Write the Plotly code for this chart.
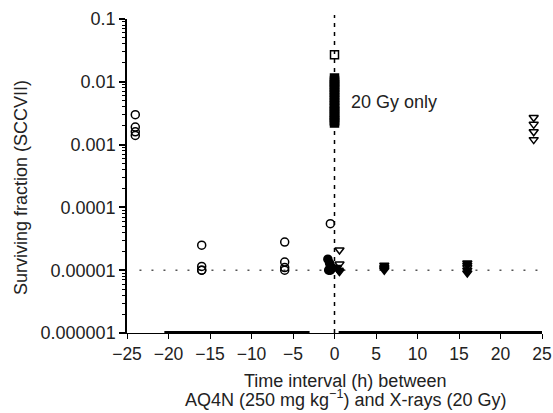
import math
import plotly.graph_objects as go

# ---- data ----
open_circle_x = [-24, -24, -24, -24, -16, -16, -16, -16, -6, -6, -6, -6, -0.5]
open_circle_y = [0.0030, 0.0019, 0.0016, 0.0014, 2.5e-5, 1.15e-5, 1.0e-5, 1.0e-5,
                 2.8e-5, 1.35e-5, 1.1e-5, 1.0e-5, 5.5e-5]

filled_circle_x = [-0.8, -0.6, -0.5, -0.4, -0.7, -0.5, -0.3]
filled_circle_y = [1.5e-5, 1.3e-5, 1.15e-5, 1.05e-5, 1.0e-5, 1.0e-5, 1.1e-5]

open_tri_x = [0.6, 0.6, 16, 24, 24, 24, 24]
open_tri_y = [2.1e-5, 1.25e-5, 1.1e-5, 0.0027, 0.0021, 0.0016, 0.0012]

filled_tri_x = [0.3, 0.5, 0.6, 6, 6, 6, 6, 16, 16, 16, 16]
filled_tri_y = [1.1e-5, 1.0e-5, 0.95e-5, 1.2e-5, 1.1e-5, 1.05e-5, 1.0e-5,
                1.3e-5, 1.2e-5, 1.0e-5, 0.9e-5]

filled_sq_x = [0] * 18
filled_sq_y = [0.0115, 0.0105, 0.0098, 0.0090, 0.0082, 0.0075, 0.0068, 0.0062,
               0.0056, 0.0051, 0.0046, 0.0042, 0.0038, 0.0034, 0.0030, 0.0027,
               0.0024, 0.0022]
open_sq_x = [0, 0, 0]
open_sq_y = [0.027, 0.0033, 0.0024]

detection_limit = 1e-5
limit_x = [-23.5, 25]

x_ticks = [-25, -20, -15, -10, -5, 0, 5, 10, 15, 20, 25]
y_ticks = [1e-6, 1e-5, 1e-4, 1e-3, 1e-2, 1e-1]
y_ticktext = ["0.000001", "0.00001", "0.0001", "0.001", "0.01", "0.1"]
y_minor = [m * 10 ** e for e in range(-6, -1) for m in range(2, 10)]

axis_thick_segments = [(-20.5, -3), (0.5, 25)]

x_title_1 = "Time interval (h) between"
x_title_2 = "AQ4N (250 mg kg<sup>−1</sup>) and X-rays (20 Gy)"
y_title = "Surviving fraction (SCCVII)"
note_text = "20 Gy only"

FONT = "Liberation Sans, Arial, sans-serif"
FS = 18
TXT = "#222"

fig = go.Figure()

fig.add_trace(go.Scatter(x=limit_x, y=[detection_limit] * 2, mode="lines",
                         line=dict(color="#555", width=1.5, dash="2px,10px"),
                         hoverinfo="skip", showlegend=False))

def mk(x, y, symbol, filled, size=8):
    fig.add_trace(go.Scatter(
        x=x, y=y, mode="markers", showlegend=False,
        marker=dict(symbol=symbol, size=size,
                    color="black" if filled else "rgba(0,0,0,0)",
                    line=dict(color="black", width=1.5))))

mk(filled_sq_x, filled_sq_y, "square", True, 8)
mk(open_sq_x, open_sq_y, "square", False, 8)
mk(open_circle_x, open_circle_y, "circle", False, 8)
mk(filled_circle_x, filled_circle_y, "circle", True, 8)
mk(open_tri_x, open_tri_y, "triangle-down", False, 8)
mk(filled_tri_x, filled_tri_y, "triangle-down", True, 8)

shapes = [dict(type="line", xref="x", yref="paper", x0=0, x1=0, y0=0, y1=1.013,
               line=dict(color="black", width=1.5, dash="4px,5px"))]
for a, b in axis_thick_segments:
    shapes.append(dict(type="line", xref="x", yref="paper", x0=a, x1=b, y0=0.003, y1=0.003,
                       line=dict(color="black", width=2)))

annotations = [
    dict(x=1.8, y=math.log10(0.0047), xref="x", yref="y", text=note_text,
         showarrow=False, xanchor="left", yanchor="middle",
         font=dict(family=FONT, size=FS, color=TXT)),
    dict(x=0.526, y=-0.153, xref="paper", yref="paper", text=x_title_1,
         showarrow=False, xanchor="center", yanchor="middle",
         font=dict(family=FONT, size=FS, color=TXT)),
    dict(x=0.526, y=-0.2516, xref="paper", yref="paper", text=x_title_2,
         showarrow=False, xanchor="center", yanchor="bottom",
         font=dict(family=FONT, size=FS, color=TXT)),
    dict(x=-0.255, y=0.462, xref="paper", yref="paper", text=y_title, textangle=-90,
         showarrow=False, xanchor="center", yanchor="middle",
         font=dict(family=FONT, size=FS, color=TXT)),
]

fig.update_layout(
    width=553, height=413,
    margin=dict(l=127, r=11, t=19, b=80, autoexpand=False),
    paper_bgcolor="white", plot_bgcolor="white",
    font=dict(family=FONT, size=FS, color=TXT),
    shapes=shapes,
    annotations=annotations,
)

fig.update_xaxes(
    range=[-25, 25], tickvals=x_ticks, showgrid=False, zeroline=False,
    showline=True, linecolor="black", linewidth=1, automargin=False,
    ticks="outside", ticklen=5, tickwidth=1, tickcolor="black",
    tickfont=dict(size=17.5, color=TXT),
)
fig.update_yaxes(
    type="log", range=[-6, -1], tickvals=y_ticks, ticktext=y_ticktext,
    showgrid=False, zeroline=False, showline=True, linecolor="black", linewidth=1.5,
    automargin=False,
    ticks="outside", ticklen=6, tickwidth=1.5, tickcolor="black",
    tickfont=dict(size=FS, color=TXT),
    minor=dict(tickvals=y_minor, ticks="outside", ticklen=3, tickwidth=1, tickcolor="black"),
)

# remove the default 8px page margin so the figure fills the 553x413 window exactly
fig.write_html("out.html", config={"displayModeBar": False},
               post_script="document.body.style.margin='0px';document.documentElement.style.overflow='hidden';")
